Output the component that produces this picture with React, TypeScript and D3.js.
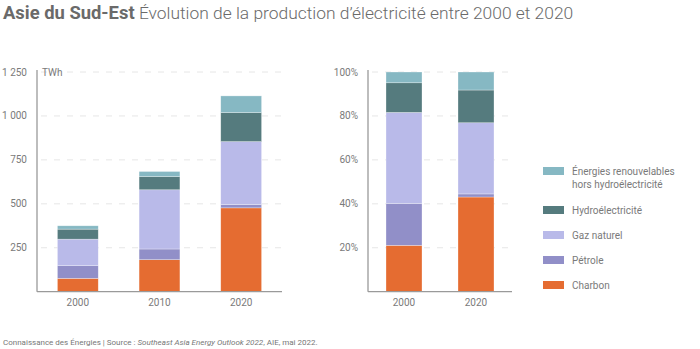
import React from "react";
import * as d3 from "d3";

const years = ["2000", "2010", "2020"];
const seriesKeys = ["charbon", "petrole", "gaz", "hydro", "renouv"];
const seriesLabels = ["Charbon", "Pétrole", "Gaz naturel", "Hydroélectricité", "Énergies renouvelables|hors hydroélectricité"];
const seriesColors = ["#E56C31", "#918FC8", "#B9BAE9", "#557B7E", "#86B8C3"];

// TWh
const charbon = [76, 182, 477];
const petrole = [72, 61, 19];
const gaz = [151, 337, 358];
const hydro = [57, 75, 165];
const renouv = [19, 29, 95];

// Shares (%)
const shareYears = ["2000", "2020"];
const shareCharbon = [21.1, 43.1];
const sharePetrole = [19.1, 1.4];
const shareGaz = [41.4, 32.4];
const shareHydro = [13.5, 14.9];
const shareRenouv = [4.9, 8.2];

const twhTicks = [250, 500, 750, 1000, 1250];
const pctTicks = [20, 40, 60, 80, 100];

const FONT = "Roboto, 'Noto Sans', sans-serif";
const TXT = "#7a7a7a";

function buildRows(cats: string[], arrs: number[][]) {
  return cats.map((c, i) => {
    const r: any = { cat: c };
    seriesKeys.forEach((k, j) => (r[k] = arrs[j][i]));
    return r;
  });
}

function Panel(props: {
  rows: any[];
  cats: string[];
  x0: number;
  x1: number;
  yMax: number;
  ticks: number[];
  fmt: (v: number) => string;
}) {
  const { rows, cats, x0, x1, yMax, ticks, fmt } = props;
  const yTop = 72;
  const yBot = 291.7;
  const x = d3.scaleBand().domain(cats).range([x0, x1]).paddingInner(0.5).paddingOuter(0.25);
  const y = d3.scaleLinear().domain([0, yMax]).range([yBot, yTop]);
  const stack = d3.stack<any>().keys(seriesKeys)(rows);
  return (
    <g>
      {ticks.map((t) => (
        <g key={t}>
          <line x1={x0 + 4} x2={x1} y1={y(t)} y2={y(t)} stroke="#e6e6e6" strokeWidth={1} strokeDasharray="6,7" />
          <text x={x0 - 10} y={y(t)} dy="0.35em" textAnchor="end" fontSize={10} fill={TXT} fontFamily={FONT}>
            {fmt(t)}
          </text>
        </g>
      ))}
      {stack.map((s, i) => (
        <g key={seriesKeys[i]} fill={seriesColors[i]}>
          {s.map((d, j) => (
            <rect
              key={j}
              x={x(cats[j])}
              width={x.bandwidth()}
              y={y(d[1])}
              height={Math.max(0, y(d[0]) - y(d[1]))}
              stroke="#ffffff"
              strokeOpacity={0.5}
              strokeWidth={0.6}
            />
          ))}
        </g>
      ))}
      <line x1={x0} x2={x0} y1={yTop - 2} y2={yBot} stroke="#9a9a9a" strokeWidth={1.3} />
      <line x1={x0} x2={x1} y1={yBot} y2={yBot} stroke="#9a9a9a" strokeWidth={1.3} />
      {cats.map((c) => (
        <text key={c} x={(x(c) as number) + x.bandwidth() / 2} y={yBot + 14} textAnchor="middle" fontSize={10} fill={TXT} fontFamily={FONT}>
          {c}
        </text>
      ))}
    </g>
  );
}

export default function App() {
  const rowsTwh = buildRows(years, [charbon, petrole, gaz, hydro, renouv]);
  const rowsPct = buildRows(shareYears, [shareCharbon, sharePetrole, shareGaz, shareHydro, shareRenouv]);
  const fmtTwh = (v: number) => d3.format(",")(v).replace(/,/g, " ");
  const legendY = [285, 260, 235, 210, 171];
  return (
    <svg width={700} height={349} style={{ position: "absolute", left: 0, top: 0, background: "#fff" }}>
      <text x={3} y={19} fill="#6a6a6a" fontFamily={FONT}>
        <tspan fontWeight="bold" fontSize={18.4}>Asie du Sud-Est</tspan>
        <tspan fontWeight={300} fontSize={17.4}> Évolution de la production d’électricité entre 2000 et 2020</tspan>
      </text>
      <Panel rows={rowsTwh} cats={years} x0={37} x1={282} yMax={1250} ticks={twhTicks} fmt={fmtTwh} />
      <text x={42} y={72} dy="0.35em" fontSize={10} fill={TXT} fontFamily={FONT}>TWh</text>
      <Panel rows={rowsPct} cats={shareYears} x0={368} x1={512} yMax={100} ticks={pctTicks} fmt={(v) => v + "%"} />
      {seriesLabels.map((lab, i) => {
        const lines = lab.split("|");
        const cy = legendY[i];
        return (
          <g key={lab}>
            <rect x={543} y={cy - 4} width={21} height={8} fill={seriesColors[i]} />
            {lines.map((l, k) => (
              <text key={k} x={572} y={cy + k * 13} dy="0.35em" fontSize={10} fill={TXT} fontFamily={FONT}>
                {l}
              </text>
            ))}
          </g>
        );
      })}
      <text x={3} y={345} fontSize={8} fill="#777" fontFamily={FONT}>
        Connaissance des Énergies | Source : <tspan fontStyle="italic">Southeast Asia Energy Outlook 2022</tspan>, AIE, mai 2022.
      </text>
    </svg>
  );
}
